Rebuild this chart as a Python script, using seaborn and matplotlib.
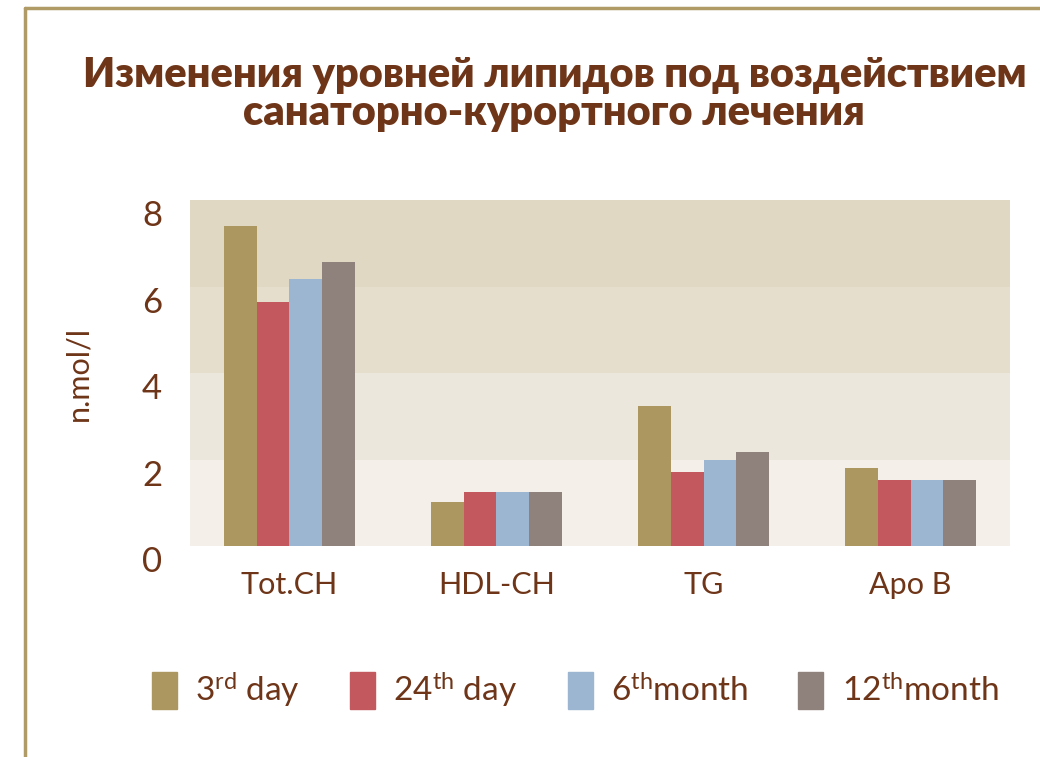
import pandas as pd
import seaborn as sns
import matplotlib.pyplot as plt
from matplotlib.lines import Line2D

# Lipid levels (n.mol/l)
categories = ['Tot.CH', 'HDL-CH', 'TG', 'Apo B']
periods = ['3rd day', '24th day', '6th month', '12th month']
labels = ['3$^{rd}$ day', '24$^{th}$ day', '6$^{th}$month', '12$^{th}$month']
day3 = [7.40, 1.02, 3.24, 1.80]
day24 = [5.64, 1.25, 1.71, 1.53]
month6 = [6.17, 1.25, 1.99, 1.53]
month12 = [6.57, 1.25, 2.17, 1.53]

colors = ['#AD9760', '#C3585E', '#9CB6D1', '#8F827D']
text_color = '#6E3518'
band_colors = ['#F4EFE8', '#ECE7DC', '#E5DECD', '#E0D8C3']

data = pd.DataFrame({
    'category': categories * 4,
    'period': [p for p in periods for _ in categories],
    'value': day3 + day24 + month6 + month12,
})

sns.set_theme(style='white')
plt.rcParams['font.family'] = ['Lato', 'DejaVu Sans']
plt.rcParams['mathtext.fontset'] = 'custom'
plt.rcParams['mathtext.rm'] = 'Lato'
plt.rcParams['mathtext.it'] = 'Lato'

fig = plt.figure(figsize=(10.4, 7.57), dpi=100)
ax = fig.add_axes([0.1827, 0.2787, 0.7885, 0.4571])

# Background bands between gridlines
for i, c in enumerate(band_colors):
    ax.axhspan(i * 2, i * 2 + 2, color=c, zorder=0, lw=0)

sns.barplot(data=data, x='category', y='value', hue='period',
            palette=colors, width=0.63, gap=0, saturation=1,
            edgecolor='none', ax=ax, zorder=2, legend=False)

ax.set_ylim(0, 8)
ax.set_xlim(-0.48, 3.48)
ax.set_yticks([0, 2, 4, 6, 8])
ax.set_xlabel('')
ax.set_ylabel('n.mol/l', fontsize=22, color=text_color, labelpad=36)
ax.tick_params(axis='y', length=0, labelsize=25, colors=text_color, pad=20)
ax.tick_params(axis='x', length=0, labelsize=22, colors=text_color, pad=18)
for lab in ax.get_yticklabels():
    lab.set_va('top')
for s in ax.spines.values():
    s.set_visible(False)

# Legend
handles = [plt.Rectangle((0, 0), 1, 1, color=c) for c in colors]
fig.legend(handles, labels, loc='center', bbox_to_anchor=(0.553, 0.088),
           ncol=4, frameon=False, labelcolor=text_color, fontsize=24,
           handlelength=0.75, handleheight=1.3, handletextpad=0.55,
           columnspacing=1.5)

# Title
fig.text(0.533, 0.876, 'Изменения уровней липидов под воздействием\nсанаторно-курортного лечения',
         ha='center', va='center', fontsize=30, fontweight='heavy',
         color=text_color, linespacing=1.0)

# Decorative frame lines
gold = '#B09A66'
fig.add_artist(Line2D([0.0245, 0.0245], [0.0, 0.99], color=gold, lw=2.5))
fig.add_artist(Line2D([0.0245, 1.0], [0.99, 0.99], color=gold, lw=2.5))

plt.savefig('out.png', dpi=100)
